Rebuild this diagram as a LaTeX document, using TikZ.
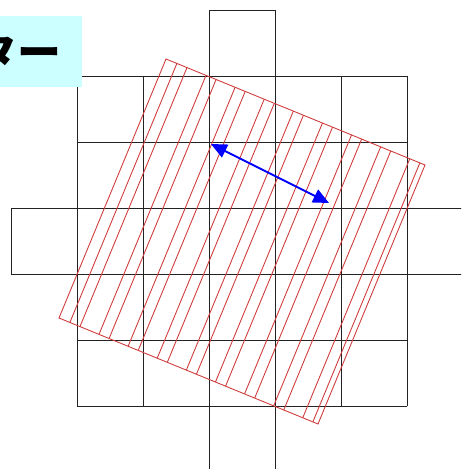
\documentclass[tikz,border=0pt]{standalone}
\usepackage{fontspec}
\usepackage{xcolor}
\usepackage{tikz}
\usetikzlibrary{calc,arrows.meta}
\newfontfamily\jpfont{Noto Sans CJK JP}
\definecolor{cellgray}{HTML}{222222}
\definecolor{hatchred}{HTML}{D03A3A}
\definecolor{arrowblue}{HTML}{0000FF}
\definecolor{labelcyan}{HTML}{CCFFFF}
\tikzset{
    cell/.style={draw=cellgray, line width=0.5pt},
    hatch/.style={draw=hatchred, line width=0.5pt},
    shift arrow/.style={{Triangle[length=9pt,width=8pt]}-{Triangle[length=9pt,width=8pt]}, line width=1.1pt, color=arrowblue},
    label box/.style={rectangle, fill=labelcyan, inner xsep=0.4cm, minimum height=1.42cm, font=\jpfont\bfseries\fontsize{25}{25}\selectfont}
}

\begin{document}
\begin{tikzpicture}[x=0.02cm, y=-0.02cm]
    \useasboundingbox (0,0) rectangle (461,469);
    \clip (0,0) rectangle (461,469);
    \begin{scope}[shift={(11,10)}]
        \foreach \i in {1,...,6} {
            \draw[cell] (66*\i,66) -- (66*\i,396);
            \draw[cell] (66,66*\i) -- (396,66*\i);
        }
        \draw[cell] (198,0) rectangle (264,66);
        \draw[cell] (198,396) rectangle (264,462);
        \draw[cell] (0,198) rectangle (66,264);
        \draw[cell] (396,198) rectangle (462,264);
    \end{scope}
    \coordinate (A) at (166,59);
    \coordinate (B) at (425,165);
    \coordinate (C) at (318,424);
    \coordinate (D) at (59,318);
    \draw[hatch] (A) -- (B) -- (C) -- (D) -- cycle;
    \foreach \k in {0,...,8}
        \foreach \d in {0,0.039}
            \draw[hatch] ($(A)!{0.042+0.1124*\k+\d}!(B)$) -- ($(D)!{0.042+0.1124*\k+\d}!(C)$);
    \coordinate (tail) at (211,144);
    \coordinate (head) at (329,203);
    \draw[shift arrow] (tail) -- (head);
    \node[label box, anchor=north east] (title) at (82,16) {ター};
\end{tikzpicture}
\end{document}
